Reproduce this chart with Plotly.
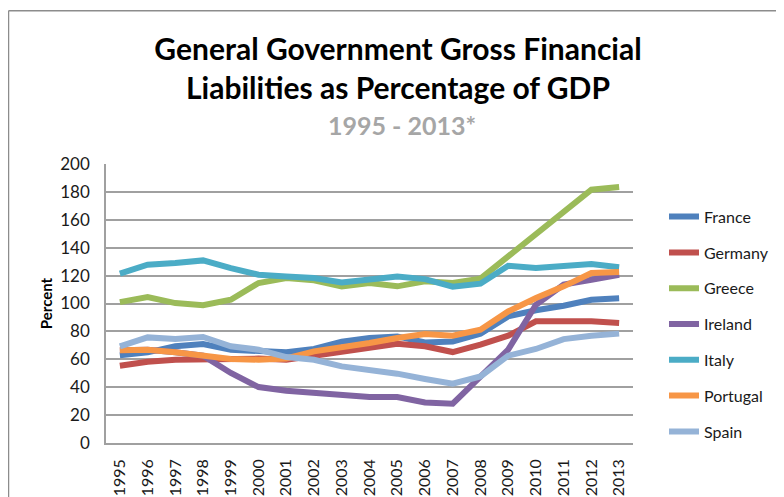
import plotly.graph_objects as go

years = [str(y) for y in range(1995, 2014)]

france = [62.8, 65.0, 69.3, 71.0, 66.9, 66.2, 65.0, 67.4, 72.6, 75.3, 76.4, 72.1, 72.8, 78.4, 90.8, 95.2, 98.4, 102.7, 103.7]
germany = [55.4, 58.3, 59.7, 60.2, 61.0, 60.5, 59.7, 62.6, 65.7, 68.1, 71.2, 69.3, 65.2, 70.5, 76.9, 87.2, 87.2, 87.2, 86.0]
greece = [101.0, 104.6, 100.3, 98.7, 102.7, 114.7, 118.3, 116.6, 112.3, 114.7, 112.3, 115.9, 114.7, 117.8, 133.8, 149.6, 165.6, 181.6, 183.5]
ireland = [66.4, 66.9, 65.0, 62.6, 50.2, 40.1, 37.5, 35.8, 34.1, 33.0, 33.0, 29.1, 28.2, 47.0, 66.9, 99.1, 113.5, 117.0, 120.6]
italy = [121.4, 127.8, 129.0, 130.9, 125.4, 120.6, 119.4, 118.3, 115.1, 117.0, 119.4, 117.5, 112.0, 114.2, 127.0, 125.4, 127.0, 128.3, 126.0]
portugal = [66.4, 66.9, 65.0, 62.6, 60.2, 59.7, 60.6, 65.7, 68.5, 71.7, 75.3, 78.1, 76.9, 81.2, 94.3, 103.9, 112.3, 121.9, 122.6]
spain = [69.3, 75.7, 74.5, 76.0, 69.3, 66.9, 61.6, 59.7, 54.9, 52.5, 49.7, 45.9, 42.5, 47.7, 62.6, 67.4, 74.5, 76.9, 78.4]

series_names = ["France", "Germany", "Greece", "Ireland", "Italy", "Portugal", "Spain"]
series_values = [france, germany, greece, ireland, italy, portugal, spain]
colors = ["#4F81BD", "#C0504D", "#9BBB59", "#8064A2", "#4BACC6", "#F79646", "#95B3D7"]

FONT = "Lato"

fig = go.Figure()
for name, vals, col in zip(series_names, series_values, colors):
    fig.add_trace(go.Scatter(
        x=years, y=vals, name=name, mode="lines",
        line=dict(color=col, width=6),
        legendgroup=name,
    ))

# The page body has an 8px margin; work in screen pixels and offset.
OFF = 8
W, H = 784 - OFF, 497 - OFF
L, R, T, B = 106 - OFF, 633 - OFF, 164.3 - OFF, 443.3 - OFF
pw, ph = R - L, B - T

def px_x(sx):
    return (sx - OFF - L) / pw

def px_y(sy):
    return (B - (sy - OFF)) / ph

fig.update_layout(
    width=W, height=H,
    margin=dict(l=L, r=W - R, t=T, b=H - B, pad=0, autoexpand=False),
    paper_bgcolor="white", plot_bgcolor="white",
    font=dict(family=FONT, size=16, color="#1a1a1a"),
    title=dict(
        text="General Government Gross Financial<br>Liabilities as Percentage of GDP",
        font=dict(family=FONT, size=30, color="black", weight="bold"),
        x=(398 - OFF) / W, xanchor="center", xref="container",
        y=1 - 52 / H, yanchor="top", yref="container",
    ),
    showlegend=True,
    legend=dict(
        x=px_x(664), y=px_y(200), xanchor="left", yanchor="top",
        font=dict(family=FONT, size=16, color="#1a1a1a"),
        tracegroupgap=12, bgcolor="rgba(0,0,0,0)",
        traceorder="grouped",
    ),
    annotations=[dict(
        text="<b>1995 - 2013*</b>", x=px_x(402), y=px_y(125),
        xref="paper", yref="paper", xanchor="center", yanchor="middle",
        showarrow=False, font=dict(family=FONT, size=25, color="#A6A6A6"),
    )],
    shapes=[
        dict(type="line", xref="paper", yref="paper",
             x0=px_x(8.5), x1=px_x(8.5), y0=px_y(11), y1=px_y(505),
             line=dict(color="#8c8c8c", width=1.5)),
        dict(type="line", xref="paper", yref="paper",
             x0=px_x(8.5), x1=px_x(800), y0=px_y(11), y1=px_y(11),
             line=dict(color="#8c8c8c", width=1.5)),
    ],
)

fig.update_xaxes(
    type="category", range=[-0.5, len(years) - 0.5],
    tickangle=-90, showgrid=False, automargin=False,
    showline=True, linecolor="#a0a0a0", linewidth=1.5,
    ticks="", tickfont=dict(family=FONT, size=16, color="#1a1a1a"),
    ticklabelstandoff=8,
)
fig.update_yaxes(
    range=[0, 200], dtick=20, tick0=0, automargin=False,
    showgrid=True, gridcolor="#a0a0a0", gridwidth=1.5,
    showline=True, linecolor="#a0a0a0", linewidth=1.5,
    zeroline=False, ticks="",
    tickfont=dict(family=FONT, size=17, color="#1a1a1a"),
    ticklabelstandoff=11,
    title=dict(text="<b>Percent</b>", font=dict(family=FONT, size=15, color="black"), standoff=4),
)

fig.write_html("out.html")
